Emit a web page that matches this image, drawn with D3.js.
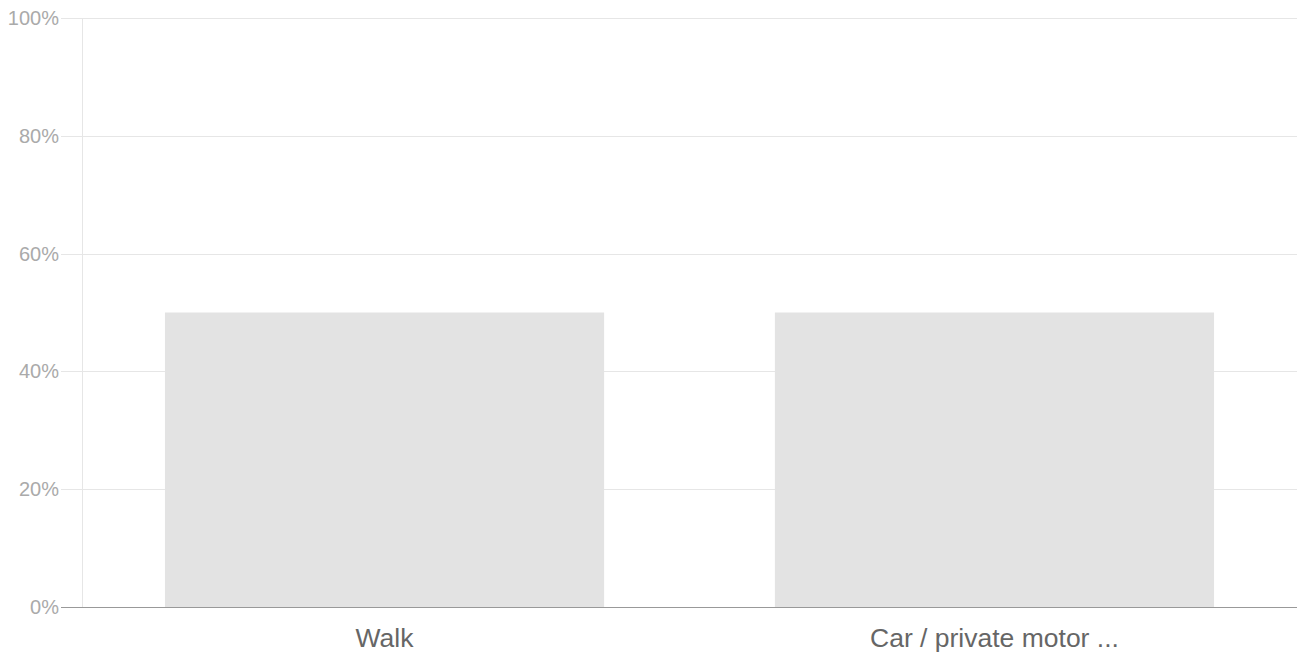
<!DOCTYPE html>
<html><head><meta charset="utf-8">
<script src="https://cdn.jsdelivr.net/npm/d3@7"></script>
<style>body{margin:0;background:#fff;}svg{display:block;font-family:"Liberation Sans",Arial,sans-serif;}</style>
</head><body><svg id="c" width="1300" height="660"></svg>
<script>
(function(){
const categories = ["Walk", "Car / private motor ..."];
const values = [0.50, 0.50];
const yTicks = [0, 0.2, 0.4, 0.6, 0.8, 1.0];
const yTickLabels = ["0%", "20%", "40%", "60%", "80%", "100%"];

const svg = d3.select("#c");
const mLeft = 82, mRight = 1297, mTop = 18, mBottom = 607;
const x = d3.scaleBand().domain(categories).range([mLeft, mRight]).paddingInner(0.28).paddingOuter(0.136);
const y = d3.scaleLinear().domain([0, 1]).range([mBottom, mTop]);

// gridlines
svg.append("g").selectAll("line").data(yTicks.filter(d => d > 0)).join("line")
  .attr("x1", 61).attr("x2", mRight).attr("y1", d => Math.round(y(d)) + 0.5).attr("y2", d => Math.round(y(d)) + 0.5)
  .attr("stroke", "#e6e6e6").attr("stroke-width", 1);
// vertical axis line
svg.append("line").attr("x1", mLeft + 0.5).attr("x2", mLeft + 0.5).attr("y1", mTop).attr("y2", mBottom)
  .attr("stroke", "#e6e6e6");

// bars
svg.append("g").selectAll("rect").data(categories).join("rect")
  .attr("x", d => x(d)).attr("width", x.bandwidth())
  .attr("y", (d, i) => y(values[i])).attr("height", (d, i) => mBottom - y(values[i]))
  .attr("fill", "#e3e3e3");

// baseline
svg.append("line").attr("x1", 61).attr("x2", mRight).attr("y1", mBottom + 0.5).attr("y2", mBottom + 0.5)
  .attr("stroke", "#999").attr("stroke-width", 1);

// y labels
svg.append("g").selectAll("text").data(yTicks).join("text")
  .attr("x", 59).attr("y", d => y(d)).attr("dy", "0.35em")
  .attr("text-anchor", "end").attr("fill", "#aaa").attr("font-size", 20)
  .text((d, i) => yTickLabels[i]);

// x labels
svg.append("g").selectAll("text").data(categories).join("text")
  .attr("x", d => x(d) + x.bandwidth() / 2).attr("y", 647)
  .attr("text-anchor", "middle").attr("fill", "#666").attr("font-size", 26.5)
  .text(d => d);
})();
</script></body></html>
